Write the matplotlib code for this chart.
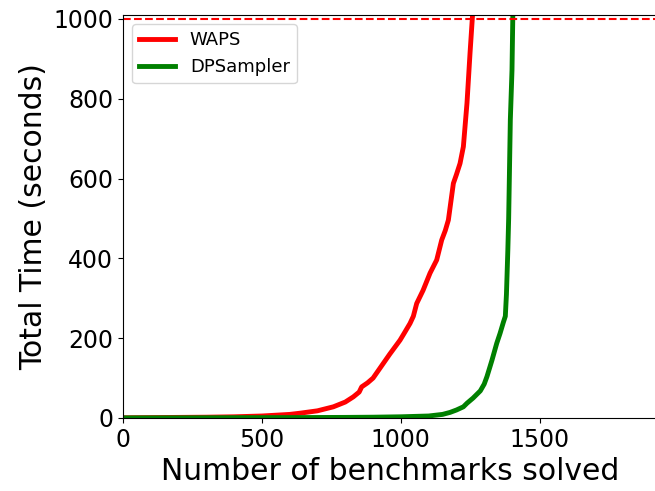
import matplotlib
matplotlib.use("Agg")
import matplotlib.pyplot as plt

# cactus data: number of benchmarks solved vs. time needed
waps_solved = [0, 100, 200, 300, 400, 500, 550, 600, 637, 700, 757, 800, 829, 850, 859,
               880, 900, 925, 960, 997, 1010, 1033, 1045, 1057, 1080, 1105, 1129, 1147,
               1160, 1171, 1189, 1200, 1213, 1225, 1238, 1249, 1258]
waps_time = [0.5, 1, 1.5, 2, 3, 5, 7, 9, 12, 18, 28, 40, 53, 65, 78,
             88, 100, 125, 160, 195, 210, 237, 255, 287, 320, 363, 396, 446,
             470, 496, 588, 610, 638, 680, 789, 915, 1010]

dps_solved = [0, 200, 400, 600, 800, 900, 1000, 1050, 1100, 1150, 1177, 1200, 1225, 1238,
              1260, 1286, 1300, 1310, 1321, 1328, 1345, 1357, 1369, 1376, 1380,
              1385, 1388, 1394, 1400, 1403]
dps_time = [0.3, 0.5, 0.8, 1, 1.5, 2, 3, 4, 5, 9, 14, 20, 28, 37,
            50, 68, 85, 104, 129, 145, 187, 212, 240, 255, 310,
            420, 500, 747, 872, 1010]

timeout = 1000

fig = plt.figure(figsize=(6.55, 4.91), dpi=100)
ax = fig.add_axes([0.1878, 0.1487, 0.817, 0.8208])

ax.plot(waps_solved, waps_time, color="red", linewidth=3.5, label="WAPS")
ax.plot(dps_solved, dps_time, color="green", linewidth=3.5, label="DPSampler")
ax.axhline(timeout, color="red", linestyle="--", linewidth=1.5)

ax.set_xlim(0, 1926)
ax.set_ylim(0, 1010)
ax.set_xticks([0, 500, 1000, 1500])
ax.set_yticks([0, 200, 400, 600, 800, 1000])
ax.tick_params(labelsize=17)
ax.set_xlabel("Number of benchmarks solved", fontsize=21.5)
ax.set_ylabel("Total Time (seconds)", fontsize=21.5)
ax.legend(loc="upper left", fontsize=13)

fig.savefig("out.png", dpi=100)
